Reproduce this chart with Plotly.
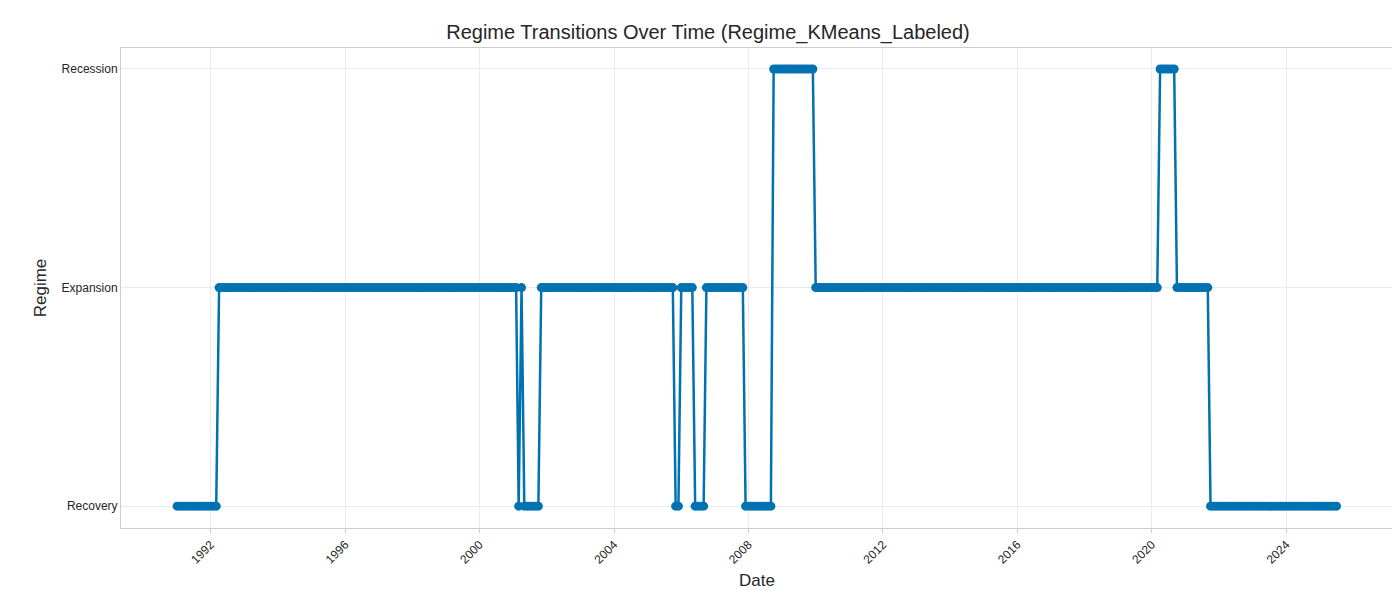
import pandas as pd
import plotly.graph_objects as go

# regime runs: (first month, regime)
run_starts = ["1991-01", "1992-04", "2001-03", "2001-04", "2001-05", "2001-11",
              "2005-11", "2006-01", "2006-06", "2006-10", "2007-12", "2008-10",
              "2010-01", "2020-04", "2020-10", "2021-10"]
run_regimes = ["Recovery", "Expansion", "Recovery", "Expansion", "Recovery", "Expansion",
               "Recovery", "Expansion", "Recovery", "Expansion", "Recovery", "Recession",
               "Expansion", "Recession", "Expansion", "Recovery"]
last_month = "2025-07"
categories = ["Recovery", "Expansion", "Recession"]

dates = pd.date_range(run_starts[0] + "-01", last_month + "-01", freq="MS")
regime = pd.Series(index=dates, dtype=object)
for s, r in zip(run_starts, run_regimes):
    regime[regime.index >= pd.Timestamp(s + "-01")] = r
codes = [categories.index(r) for r in regime]

fig = go.Figure()
fig.add_trace(go.Scatter(x=dates, y=codes, mode="lines+markers",
                         line=dict(color="#0072B2", width=2.5),
                         marker=dict(color="#0072B2", size=9)))

fig.update_layout(
    width=1400, height=600, template="plotly_white",
    font=dict(family="Liberation Sans, Arial, sans-serif", color="#262626"),
    title=dict(text="Regime Transitions Over Time (Regime_KMeans_Labeled)",
               x=0.5, xanchor="center", y=0.96, yanchor="middle",
               yref="container", automargin=False, font=dict(size=20)),
    margin=dict(l=113, r=15, t=40, b=80, autoexpand=False),
    showlegend=False, plot_bgcolor="white",
)
fig.update_xaxes(title=dict(text="Date", font=dict(size=17), standoff=8),
                 automargin=False,
                 range=["1989-05-01", "2027-03-07"],
                 tickvals=[f"{y}-01-01" for y in range(1992, 2025, 4)],
                 ticktext=[str(y) for y in range(1992, 2025, 4)],
                 tickangle=-45, tickfont=dict(size=12),
                 showgrid=True, gridcolor="#ebebeb", zeroline=False,
                 showline=True, linecolor="#cccccc", mirror=True, ticks="outside",
                 ticklen=4, tickcolor="#cccccc")
fig.update_yaxes(title=dict(text="Regime", font=dict(size=17), standoff=10),
                 automargin=False,
                 range=[-0.1, 2.096], tickvals=[0, 1, 2], ticktext=categories,
                 tickfont=dict(size=12), showgrid=True, gridcolor="#ebebeb",
                 zeroline=False, showline=True, linecolor="#cccccc", mirror=True)

fig.write_html("out.html")
